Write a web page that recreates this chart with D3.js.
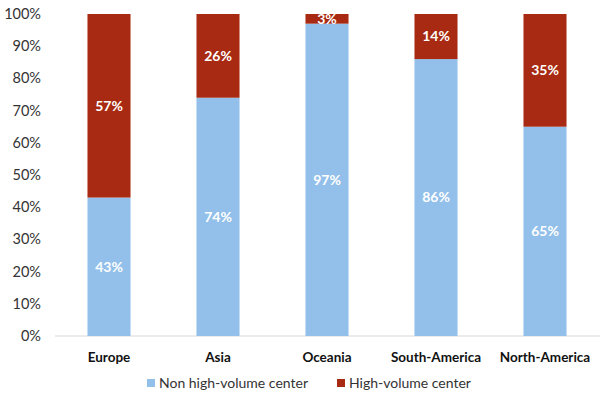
<!DOCTYPE html>
<html><head><meta charset="utf-8">
<script src="https://cdn.jsdelivr.net/npm/d3@7"></script>
<style>body{margin:0;background:#fff}</style>
</head><body><svg id="c" width="607" height="401"></svg>
<script>
const categories = ["Europe","Asia","Oceania","South-America","North-America"];
const nonHigh = [43,74,97,86,65];
const high = [57,26,3,14,35];
const seriesNames = ["Non high-volume center","High-volume center"];
const yTicks = [0,10,20,30,40,50,60,70,80,90,100];
const colors = ["#92C0EA","#A82A12"];

const svg = d3.select("#c");
const font = "Lato, 'Open Sans', sans-serif";
const x = d3.scaleBand().domain(categories).range([54.5,599.5]).paddingInner(0.605).paddingOuter(0.3025);
const y = d3.scaleLinear().domain([0,100]).range([336,14]);

svg.append("line").attr("x1",55).attr("x2",600).attr("y1",y(0)).attr("y2",y(0)).attr("stroke","#d9d9d9").attr("stroke-width",1);

svg.append("g").selectAll("text").data(yTicks).join("text")
 .attr("x",41).attr("y",d=>y(d)).attr("dy","0.35em").attr("text-anchor","end")
 .attr("font-family",font).attr("font-size",14.5).attr("fill","#333").text(d=>d+"%");

const stack = categories.map((c,i)=>({c, segs:[{s:0,y0:0,y1:nonHigh[i],v:nonHigh[i]},{s:1,y0:nonHigh[i],y1:nonHigh[i]+high[i],v:high[i]}]}));
const g = svg.append("g");
stack.forEach(d=>{
  d.segs.forEach(s=>{
    g.append("rect").attr("x",x(d.c)).attr("width",x.bandwidth())
     .attr("y",y(s.y1)).attr("height",y(s.y0)-y(s.y1)).attr("fill",colors[s.s]);
  });
  d.segs.forEach(s=>{
    g.append("text").attr("x",x(d.c)+x.bandwidth()/2).attr("y",(y(s.y0)+y(s.y1))/2)
     .attr("dy","0.35em").attr("text-anchor","middle").attr("font-family",font)
     .attr("font-weight","bold").attr("font-size",14).attr("fill","#fff").text(s.v+"%");
  });
});

svg.append("g").selectAll("text").data(categories).join("text")
 .attr("x",d=>x(d)+x.bandwidth()/2).attr("y",357).attr("dy","0.35em").attr("text-anchor","middle")
 .attr("font-family",font).attr("font-weight","bold").attr("font-size",13.5).attr("fill","#111").text(d=>d);

const leg = svg.append("g");
const legX = [147,337];
seriesNames.forEach((n,i)=>{
  leg.append("rect").attr("x",legX[i]).attr("y",379).attr("width",8).attr("height",8).attr("fill",colors[i]);
  leg.append("text").attr("x",legX[i]+12).attr("y",383).attr("dy","0.35em")
   .attr("font-family",font).attr("font-size",14).attr("fill","#333").text(n);
});
</script></body></html>
